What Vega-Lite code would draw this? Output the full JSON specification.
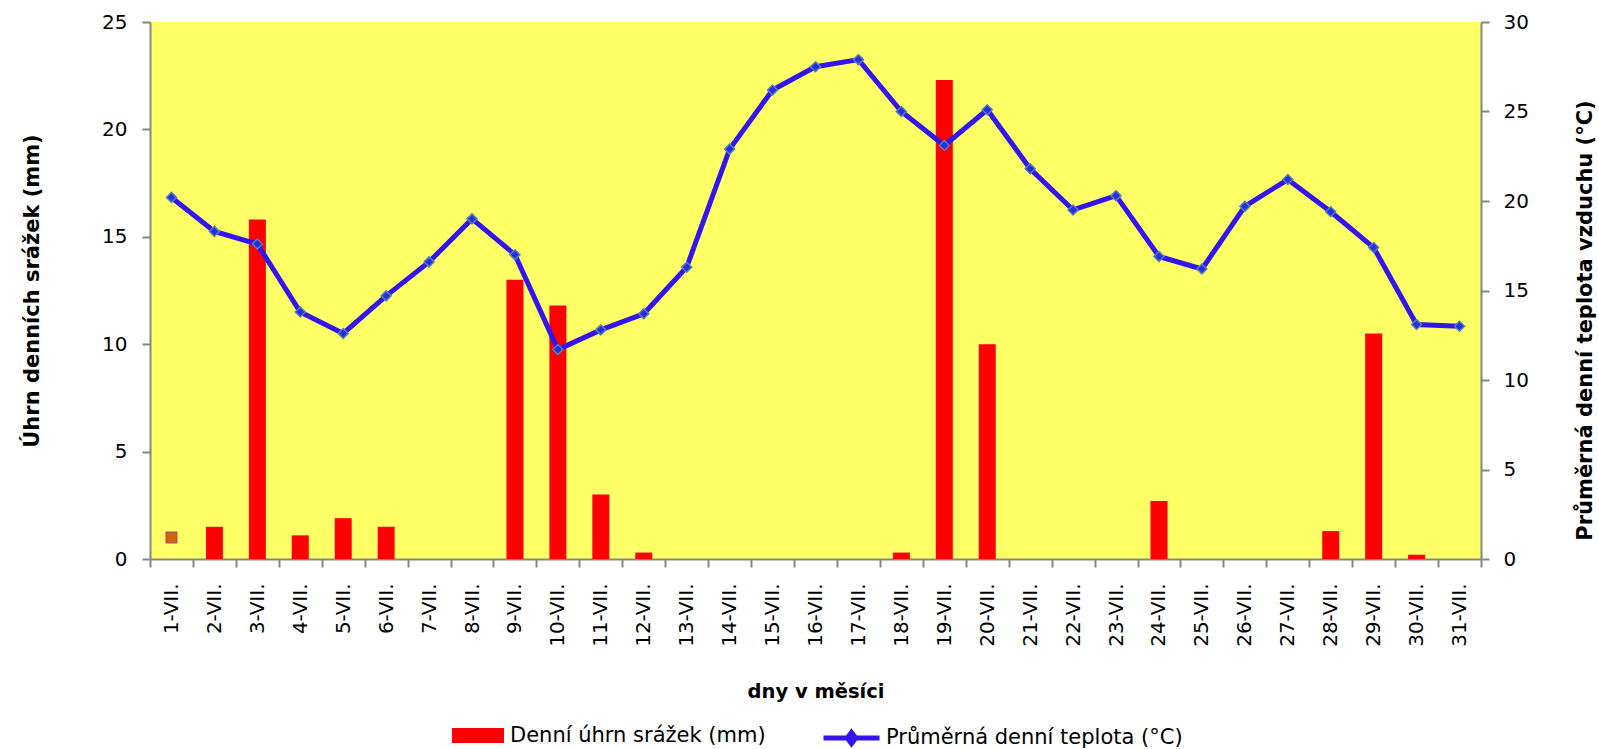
{
  "$schema": "https://vega.github.io/schema/vega-lite/v6.json",
  "autosize": {"type": "none"},
  "width": 1331,
  "height": 537,
  "padding": {"left": 150, "top": 22, "right": 118, "bottom": 190},
  "background": "#ffffff",
  "config": {
    "font": "DejaVu Sans",
    "view": {"stroke": null, "fill": "#FFFF66"},
    "axis": {
      "domainColor": "#868686",
      "domainWidth": 2,
      "tickColor": "#868686",
      "tickWidth": 2,
      "tickSize": 8,
      "grid": false,
      "labelFont": "DejaVu Sans",
      "labelFontSize": 20,
      "labelColor": "#000000",
      "titleFont": "DejaVu Sans",
      "titleFontWeight": "bold",
      "titleColor": "#000000"
    },
    "legend": {
      "labelFont": "DejaVu Sans",
      "labelFontSize": 21,
      "labelColor": "#000000",
      "labelLimit": 600,
      "padding": 0,
      "titlePadding": 0
    }
  },
  "data": {
    "values": [
      {"den": "1-VII.", "srazky": 1.0, "teplota": 20.2},
      {"den": "2-VII.", "srazky": 1.5, "teplota": 18.3},
      {"den": "3-VII.", "srazky": 15.8, "teplota": 17.6},
      {"den": "4-VII.", "srazky": 1.1, "teplota": 13.8},
      {"den": "5-VII.", "srazky": 1.9, "teplota": 12.6},
      {"den": "6-VII.", "srazky": 1.5, "teplota": 14.7},
      {"den": "7-VII.", "srazky": 0, "teplota": 16.6},
      {"den": "8-VII.", "srazky": 0, "teplota": 19.0},
      {"den": "9-VII.", "srazky": 13.0, "teplota": 17.0},
      {"den": "10-VII.", "srazky": 11.8, "teplota": 11.7},
      {"den": "11-VII.", "srazky": 3.0, "teplota": 12.8},
      {"den": "12-VII.", "srazky": 0.3, "teplota": 13.7},
      {"den": "13-VII.", "srazky": 0, "teplota": 16.3},
      {"den": "14-VII.", "srazky": 0, "teplota": 22.9},
      {"den": "15-VII.", "srazky": 0, "teplota": 26.2},
      {"den": "16-VII.", "srazky": 0, "teplota": 27.5},
      {"den": "17-VII.", "srazky": 0, "teplota": 27.9},
      {"den": "18-VII.", "srazky": 0.3, "teplota": 25.0},
      {"den": "19-VII.", "srazky": 22.3, "teplota": 23.1},
      {"den": "20-VII.", "srazky": 10.0, "teplota": 25.1},
      {"den": "21-VII.", "srazky": 0, "teplota": 21.8},
      {"den": "22-VII.", "srazky": 0, "teplota": 19.5},
      {"den": "23-VII.", "srazky": 0, "teplota": 20.3},
      {"den": "24-VII.", "srazky": 2.7, "teplota": 16.9},
      {"den": "25-VII.", "srazky": 0, "teplota": 16.2},
      {"den": "26-VII.", "srazky": 0, "teplota": 19.7},
      {"den": "27-VII.", "srazky": 0, "teplota": 21.2},
      {"den": "28-VII.", "srazky": 1.3, "teplota": 19.4},
      {"den": "29-VII.", "srazky": 10.5, "teplota": 17.4},
      {"den": "30-VII.", "srazky": 0.2, "teplota": 13.1},
      {"den": "31-VII.", "srazky": 0, "teplota": 13.0}
    ]
  },
  "encoding": {
    "x": {
      "field": "den",
      "type": "ordinal",
      "sort": null,
      "scale": {
        "domain": ["1-VII.", "2-VII.", "3-VII.", "4-VII.", "5-VII.", "6-VII.", "7-VII.", "8-VII.", "9-VII.", "10-VII.", "11-VII.", "12-VII.", "13-VII.", "14-VII.", "15-VII.", "16-VII.", "17-VII.", "18-VII.", "19-VII.", "20-VII.", "21-VII.", "22-VII.", "23-VII.", "24-VII.", "25-VII.", "26-VII.", "27-VII.", "28-VII.", "29-VII.", "30-VII.", "31-VII."],
        "paddingInner": 0,
        "paddingOuter": 0
      },
      "axis": {
        "title": "dny v měsíci",
        "titleFontSize": 19.5,
        "titleBaseline": "top",
        "titleY": 123,
        "tickBand": "extent",
        "labelAngle": -90,
        "labelAlign": "right",
        "labelBaseline": "middle",
        "labelPadding": 16
      }
    }
  },
  "layer": [
    {
      "encoding": {
        "y": {
          "field": "srazky",
          "type": "quantitative",
          "scale": {"domain": [0, 25], "nice": false},
          "axis": {
            "title": "Úhrn denních srážek (mm)",
            "titleFontSize": 21,
            "titleAngle": 270,
            "titleBaseline": "alphabetic",
            "titleX": -112,
            "values": [0, 5, 10, 15, 20, 25],
            "labelPadding": 15
          }
        }
      },
      "layer": [
        {
          "transform": [{"filter": "datum.den !== '1-VII.'"}],
          "mark": {"type": "bar", "width": 17},
          "encoding": {
            "fill": {
              "datum": "Denní úhrn srážek (mm)",
              "scale": {"range": ["#FF0000"]},
              "legend": {
                "title": null,
                "orient": "none",
                "legendX": 302,
                "legendY": 687.5,
                "symbolType": "M-1,-0.29L1,-0.29L1,0.29L-1,0.29Z",
                "symbolSize": 2704,
                "symbolStrokeWidth": 0,
                "labelOffset": 6
              }
            }
          }
        },
        {
          "transform": [{"filter": "datum.den === '1-VII.'"}],
          "mark": {"type": "point", "shape": "square", "filled": true, "size": 110, "fill": "#CC6600", "stroke": "#C0504D", "strokeWidth": 1.5, "opacity": 1}
        }
      ]
    },
    {
      "encoding": {
        "y": {
          "field": "teplota",
          "type": "quantitative",
          "scale": {"domain": [0, 30], "nice": false},
          "axis": {
            "orient": "right",
            "title": "Průměrná denní teplota vzduchu (°C)",
            "titleFontSize": 21,
            "titleAngle": 270,
            "titleAlign": "center",
            "titleBaseline": "alphabetic",
            "titleX": 110,
            "titleY": 298,
            "values": [0, 5, 10, 15, 20, 25, 30],
            "labelPadding": 14
          }
        }
      },
      "layer": [
        {
          "mark": {"type": "line", "strokeWidth": 5},
          "encoding": {
            "stroke": {
              "datum": "Průměrná denní teplota (°C)",
              "scale": {"range": ["#3414EE"]},
              "legend": {
                "title": null,
                "orient": "none",
                "legendX": 671,
                "legendY": 685.5,
                "symbolType": "M-1,0L1,0M0,-0.2L0.15,0L0,0.2L-0.15,0Z",
                "symbolSize": 3136,
                "symbolStrokeWidth": 5,
                "symbolFillColor": "#3414EE",
                "labelOffset": 4
              }
            }
          }
        },
        {
          "mark": {"type": "point", "shape": "diamond", "filled": true, "size": 100, "fill": "#2B2BE0", "stroke": "#4F81BD", "strokeWidth": 1.5, "opacity": 1}
        }
      ]
    }
  ],
  "resolve": {"scale": {"y": "independent"}, "axis": {"y": "independent"}}
}
